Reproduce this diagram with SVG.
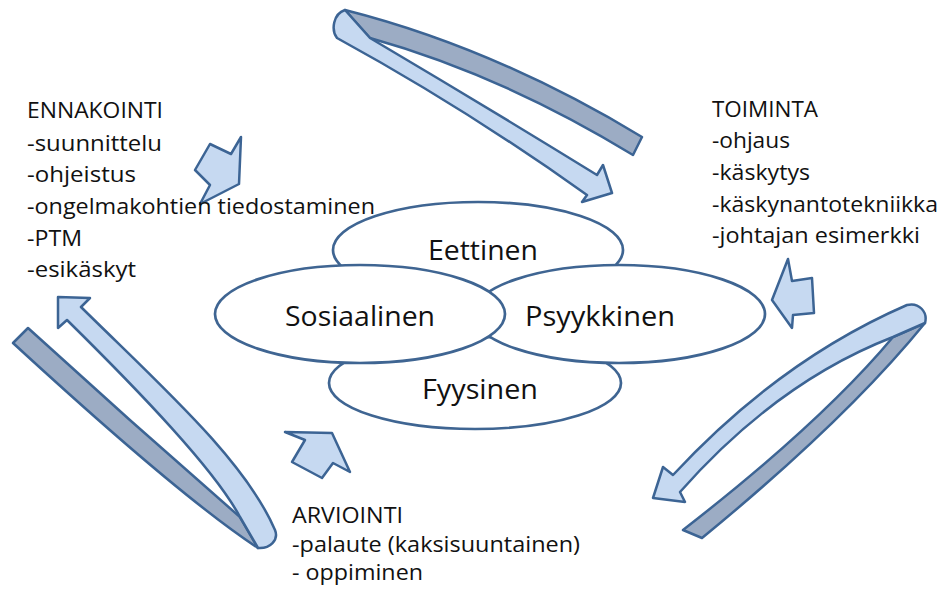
<svg xmlns="http://www.w3.org/2000/svg" width="943" height="591" viewBox="0 0 943 591">
<defs>
<style>
.t{font-family:"Open Sans","Liberation Sans",sans-serif;font-size:21px;fill:#111}
.e{font-family:"Open Sans","Liberation Sans",sans-serif;font-size:28px;fill:#111}
.el{fill:#fff;stroke:#3F6592;stroke-width:2.7}
.lt{fill:#C6D9F1;stroke:#3C6494;stroke-width:2.5;stroke-linejoin:round}
.dk{fill:#9CACC4;stroke:#3C6494;stroke-width:2.5;stroke-linejoin:round}
</style>
</defs>
<rect width="943" height="591" fill="#fff"/>
<g id="connectors">
  <g id="arrow-top">
    <path class="dk" d="M345,10 Q495,48 642,137 L633,155 Q502,75 370,38 Z"/>
    <path class="lt" d="M345,10 L370,38 Q485,106 597,175 L603,165 L612,193 L582,202 L587,195 Q465,108 337,38 C331,30 333,14 345,10 Z"/>
  </g>
  <g id="arrow-right">
    <path class="dk" d="M925,323 Q846,420 702,538 L683,530 Q822,422 893,337 Z"/>
    <path class="lt" d="M907,305 C919,302 928,312 925,323 L893,337 Q777,382 680,492 L685,502 L653,498 L663,467 L673,475 Q780,360 907,305 Z"/>
  </g>
  <g id="arrow-left">
    <path class="dk" d="M28,328 Q133,424 240,517 L258,548 C200,510 100,423 13,343 Z"/>
    <path class="lt" d="M81,307 C160,385 245,460 275,530 C279,540 270,549 258,548 L240,517 C215,470 140,392 67,320 L58,328 L58,297 L90,298 Z"/>
  </g>
  <polygon id="arrow-small-tl" class="lt" points="241,137 231,154 210,144 195,170 210,185 200,204 239,184"/>
  <polygon id="arrow-small-r" class="lt" points="788,259 792,281 812,278 814,313 793,315 792,328 772,300"/>
  <polygon id="arrow-small-b" class="lt" points="285,432 305,440 292,462 322,478 333,463 350,472 332,433"/>
</g>
<g id="node-eettinen">
  <ellipse class="el" cx="478" cy="250" rx="145" ry="48"/>
  <text class="e" x="428" y="260" textLength="110" lengthAdjust="spacingAndGlyphs">Eettinen</text>
</g>
<g id="node-fyysinen">
  <ellipse class="el" cx="475" cy="383" rx="146" ry="46"/>
  <text class="e" x="422" y="399" textLength="116" lengthAdjust="spacingAndGlyphs">Fyysinen</text>
</g>
<g id="node-psyykkinen">
  <ellipse class="el" cx="619" cy="314" rx="146" ry="49"/>
  <text class="e" x="525" y="326" textLength="150" lengthAdjust="spacingAndGlyphs">Psyykkinen</text>
</g>
<g id="node-sosiaalinen">
  <ellipse class="el" cx="360" cy="314" rx="145" ry="49"/>
  <text class="e" x="285" y="326" textLength="150" lengthAdjust="spacingAndGlyphs">Sosiaalinen</text>
</g>
<g id="node-ennakointi">
  <text class="t" x="27" y="118" textLength="136" lengthAdjust="spacingAndGlyphs">ENNAKOINTI</text>
  <text class="t" x="27" y="151" textLength="135" lengthAdjust="spacingAndGlyphs">-suunnittelu</text>
  <text class="t" x="27" y="182" textLength="109" lengthAdjust="spacingAndGlyphs">-ohjeistus</text>
  <text class="t" x="27" y="214" textLength="348" lengthAdjust="spacingAndGlyphs">-ongelmakohtien tiedostaminen</text>
  <text class="t" x="27" y="246" textLength="55" lengthAdjust="spacingAndGlyphs">-PTM</text>
  <text class="t" x="27" y="277" textLength="109" lengthAdjust="spacingAndGlyphs">-esikäskyt</text>
</g>
<g id="node-toiminta">
  <text class="t" x="712" y="117" textLength="106" lengthAdjust="spacingAndGlyphs">TOIMINTA</text>
  <text class="t" x="712" y="148" textLength="78" lengthAdjust="spacingAndGlyphs">-ohjaus</text>
  <text class="t" x="712" y="180" textLength="98" lengthAdjust="spacingAndGlyphs">-käskytys</text>
  <text class="t" x="712" y="212" textLength="226" lengthAdjust="spacingAndGlyphs">-käskynantotekniikka</text>
  <text class="t" x="712" y="243" textLength="208" lengthAdjust="spacingAndGlyphs">-johtajan esimerkki</text>
</g>
<g id="node-arviointi">
  <text class="t" x="292" y="523" textLength="111" lengthAdjust="spacingAndGlyphs">ARVIOINTI</text>
  <text class="t" x="292" y="552" textLength="288" lengthAdjust="spacingAndGlyphs">-palaute (kaksisuuntainen)</text>
  <text class="t" x="292" y="580" textLength="131" lengthAdjust="spacingAndGlyphs">- oppiminen</text>
</g>
</svg>
